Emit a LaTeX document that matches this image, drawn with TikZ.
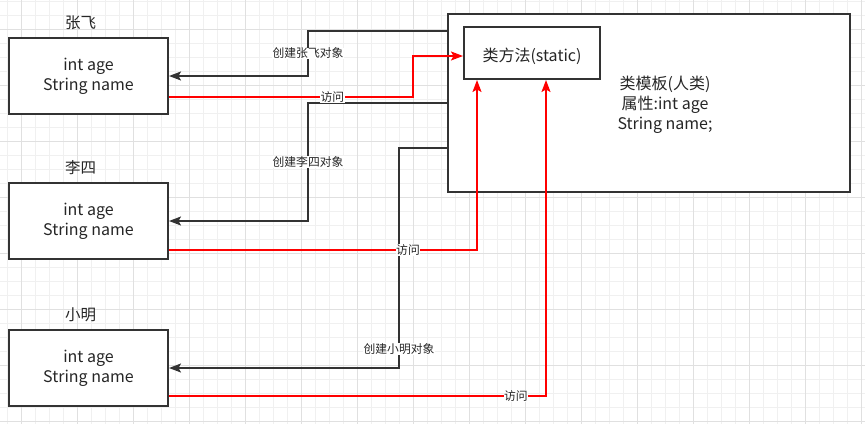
\documentclass[tikz,border=0pt]{standalone}
\usepackage{fontspec}
\setmainfont{Noto Sans CJK SC}
\usetikzlibrary{positioning, arrows.meta}

\begin{document}
\begin{tikzpicture}[x=1pt, y=-1pt,
        box/.style={draw=black!80, line width=2pt, fill=white, minimum width=159pt, minimum height=76pt, align=center, text=black!85, font=\fontsize{16}{20}\selectfont, execute at begin node={\rule{0pt}{20pt}}},
        objname/.style={text=black!85, inner sep=0pt, font=\fontsize{15.5}{18}\selectfont},
        create/.style={draw=black!80, line width=1.6pt, -{Stealth[length=12pt, width=9pt, inset=2.5pt]}},
        visit/.style={draw=red, line width=1.6pt, -{Stealth[length=12pt, width=9pt, inset=2.5pt]}},
        lbl/.style={fill=white, inner sep=0.5pt, text=black!85, font=\fontsize{11.8}{13}\selectfont},
        minorgrid/.style={draw=gray!12, line width=1pt},
        majorgrid/.style={draw=gray!24, line width=1pt}]
        \useasboundingbox (0,0) rectangle (865,424);
        \fill[white] (0,0) rectangle (865,424);
        \foreach \x in {7.3,21.3,...,865} \draw[minorgrid] (\x,0) -- (\x,424);
        \foreach \y in {1,15,...,424} \draw[minorgrid] (0,\y) -- (865,\y);
        \foreach \x in {21.3,77.3,...,865} \draw[majorgrid] (\x,0) -- (\x,424);
        \foreach \y in {29,85,...,424} \draw[majorgrid] (0,\y) -- (865,\y);

        \node[box, minimum width=402pt, minimum height=178pt] (cls) at (649,103) {};
        \node[text=black!85, align=center, font=\fontsize{16}{20}\selectfont] (clstext) at (665,105) {类模板(人类)\\属性:int age\\String name;};
        \node[box, minimum width=136pt, minimum height=52pt, execute at begin node={\rule{0pt}{21pt}}] (method) at (532,53) {类方法(static)};

        \node[box] (zf) at (88.5,76) {int age\\String name};
        \node[box] (ls) at (88.5,221) {int age\\String name};
        \node[box] (xm) at (88.5,368) {int age\\String name};
        \node[objname, above=7pt of zf.north, xshift=-8pt] (zfname) {张飞};
        \node[objname, above=7pt of ls.north, xshift=-8pt] (lsname) {李四};
        \node[objname, above=7pt of xm.north, xshift=-8pt] (xmname) {小明};

        \draw[create] ([yshift=72pt]cls.west) -- ++(-139,0) |- node[lbl, pos=0.25] {创建张飞对象} (zf);
        \draw[create] (cls.west) -- ++(-139,0) |- node[lbl, pos=0.25] {创建李四对象} (ls);
        \draw[create] ([yshift=-45pt]cls.west) -- ++(-48,0) |- node[lbl, pos=0.457] {创建小明对象} (xm);

        \draw[visit] ([yshift=-21pt]zf.east) -- node[lbl, pos=0.67] {访问} ++(244,0) |- ([yshift=-3pt]method.west);
        \draw[visit] ([yshift=-29pt]ls.east) -| node[lbl, pos=0.388] {访问} ([xshift=-55pt]method.south);
        \draw[visit] ([yshift=-28pt]xm.east) -| node[lbl, pos=0.46] {访问} ([xshift=14pt]method.south);
\end{tikzpicture}
\end{document}
